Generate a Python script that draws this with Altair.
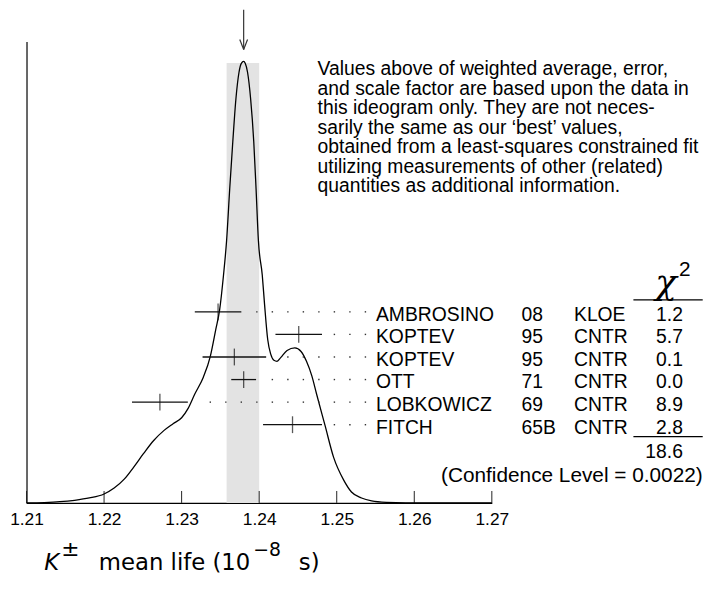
import altair as alt
import pandas as pd
import numpy as np

# ---- measurements (PDG K+- mean life, 1e-8 s) ----
authors = ["AMBROSINO", "KOPTEV", "KOPTEV", "OTT", "LOBKOWICZ", "FITCH"]
years = ["08", "95", "95", "71", "69", "65B"]
techs = ["KLOE", "CNTR", "CNTR", "CNTR", "CNTR", "CNTR"]
values = [1.2347, 1.2451, 1.2368, 1.2380, 1.2272, 1.2443]
errors = [0.0030, 0.0030, 0.0041, 0.0016, 0.0036, 0.0038]
chi2 = ["1.2", "5.7", "0.1", "0.0", "8.9", "2.8"]
chi2_total = "18.6"
conf_level = "(Confidence Level = 0.0022)"

avg_lo, avg_hi, avg = 1.2358, 1.2400, 1.2380

# ideogram curve (relative height, peak = 1)
curve_x = [1.2100, 1.2123, 1.2143, 1.2162, 1.2181, 1.2200, 1.2213, 1.2226, 1.2238,
           1.2251, 1.2264, 1.2277, 1.2289, 1.2300, 1.2308, 1.2317, 1.2328, 1.2337,
           1.2344, 1.2349, 1.2354, 1.2358, 1.2362, 1.2366, 1.2370, 1.2374, 1.2377,
           1.2380, 1.2382, 1.2385, 1.2389, 1.2393, 1.2396, 1.2399, 1.2404, 1.2407,
           1.2411, 1.2415, 1.2419, 1.2423, 1.2428, 1.2436, 1.2446, 1.2454, 1.2461,
           1.2468, 1.2474, 1.2485, 1.2496, 1.2509, 1.2519, 1.2532, 1.2545, 1.2564,
           1.2589, 1.2700]
curve_y = [0.0, 0.0009, 0.0027, 0.006, 0.0112, 0.0202, 0.0336, 0.0538, 0.0807,
           0.1121, 0.1413, 0.1637, 0.1794, 0.1928, 0.2130, 0.2466, 0.2848, 0.3318,
           0.3924, 0.4372, 0.5157, 0.5942, 0.7108, 0.8184, 0.9148, 0.9753, 0.9955,
           1.0, 0.9955, 0.9753, 0.9148, 0.8184, 0.7108, 0.5942, 0.5157, 0.4484,
           0.3700, 0.3363, 0.3229, 0.3206, 0.3296, 0.3453, 0.3509, 0.3430, 0.3206,
           0.2870, 0.2466, 0.1749, 0.1031, 0.0516, 0.0247, 0.0112, 0.0045, 0.0011,
           0.0, 0.0]

tick_values = [1.21, 1.22, 1.23, 1.24, 1.25, 1.26, 1.27]

note = ["Values above of weighted average, error,",
        "and scale factor are based upon the data in",
        "this ideogram only.  They are not neces-",
        "sarily the same as our \u2018best\u2019 values,",
        "obtained from a least-squares constrained fit",
        "utilizing measurements of other (related)",
        "quantities as additional information."]

# ---- layout ----
W, H = 470, 466
FONT = "Liberation Sans"
FS = 19.5
xs = alt.Scale(domain=[1.21, 1.27], nice=False, zero=False)
ys = alt.Scale(domain=[0, 1.0448], nice=False, zero=False)
rs = alt.Scale(domain=[-11.974, 8.465], nice=False, zero=False, reverse=True)
xaxis = alt.Axis(values=tick_values, format=".2f", ticks=False, grid=False, title=None,
                 domainColor="black", domainWidth=1.2, labelFont=FONT, labelFontSize=17.5,
                 labelColor="black", labelPadding=8, labelFlush=False)

def X(f):
    return alt.X(f, type="quantitative", scale=xs, axis=xaxis)

meas = pd.DataFrame({"row": list(range(len(values))), "author": authors, "year": years,
                     "tech": techs, "v": values, "e": errors, "chi": chi2})
meas["lo"] = meas.v - meas.e
meas["hi"] = meas.v + meas.e

# dotted leaders on a fixed grid
grid = np.arange(1.2337, 1.25375, 0.002)
dots = []
for i, h in enumerate(meas.hi):
    for g in grid:
        if g - h > 0.0012:
            dots.append({"row": i, "x": float(g)})
dots = pd.DataFrame(dots)

curve = pd.DataFrame({"x": curve_x, "y": curve_y})

band = alt.Chart(pd.DataFrame({"a": [avg_lo], "b": [avg_hi], "y0": [0], "y1": [0.9962]})).mark_rect(
    color="#e3e3e3").encode(x=X("a"), x2="b", y=alt.Y("y0:Q", scale=ys, axis=None), y2="y1")

ticks = alt.Chart(pd.DataFrame({"t": tick_values})).mark_rule(color="#222", strokeWidth=1).encode(
    x=X("t"), y=alt.Y("y0:Q", scale=ys, axis=None), y2="y1"
).transform_calculate(y0="0", y1="0.027")

line = alt.Chart(curve).mark_line(color="black", strokeWidth=1.3, interpolate="monotone").encode(
    x=X("x"),
    y=alt.Y("y:Q", scale=ys, axis=alt.Axis(domain=True, ticks=False, labels=False, grid=False,
                                            title=None, domainColor="black", domainWidth=1.2)))

arrow_df = pd.DataFrame({"x": [avg], "ya": [1.1166], "yb": [1.0269]})
arrow = alt.Chart(arrow_df).mark_rule(color="#333", strokeWidth=1.2).encode(
    x=X("x"), y=alt.Y("ya:Q", scale=ys, axis=None), y2="yb")
head_df = pd.DataFrame({"x": [avg - 0.0005, avg + 0.0005], "x2": [avg, avg],
                        "ya": [1.0493, 1.0493], "yb": [1.0269, 1.0269]})
head = alt.Chart(head_df).mark_rule(color="#333", strokeWidth=1.2).encode(
    x=X("x"), x2="x2", y=alt.Y("ya:Q", scale=ys, axis=None), y2="yb")

bars = alt.Chart(meas).mark_rule(color="#111", strokeWidth=1.3).encode(
    x=X("lo"), x2="hi", y=alt.Y("row:Q", scale=rs, axis=None))
centers = alt.Chart(meas).mark_tick(color="#111", thickness=1.3, size=17).encode(
    x=X("v"), y=alt.Y("row:Q", scale=rs, axis=None))
leaders = alt.Chart(dots).mark_square(color="#333", size=2, opacity=1).encode(
    x=X("x"), y=alt.Y("row:Q", scale=rs, axis=None))

def col(field, px, align):
    return alt.Chart(meas).mark_text(font=FONT, fontSize=FS, align=align, baseline="middle",
                                     dy=3, color="black").encode(
        x=alt.value(px), y=alt.Y("row:Q", scale=rs, axis=None), text=alt.Text(field, type="nominal"))

c_auth = col("author", 353, "left")
c_year = col("year", 500, "left")
c_tech = col("tech", 553, "left")
c_chi = col("chi", 663, "right")


def txt(s, px, py, size=FS, align="left", font=FONT, style="normal", baseline="alphabetic"):
    return alt.Chart(pd.DataFrame({"s": [s]})).mark_text(
        font=font, fontSize=size, align=align, baseline=baseline, fontStyle=style,
        color="black").encode(x=alt.value(px), y=alt.value(py), text=alt.Text("s", type="nominal"))

note_t = alt.Chart(pd.DataFrame({"k": [0]})).mark_text(
    text=note, font=FONT, fontSize=19.5, align="left", baseline="top", lineHeight=19.7,
    color="black").encode(x=alt.value(294), y=alt.value(19))

chi_head = txt("\u03c7", 646, 255, size=36, align="center", font="DejaVu Serif", style="italic")
chi_sup = txt("2", 659, 237, size=21)
tot = txt(chi2_total, 663, 421, align="right")
cl = txt(conf_level, 683, 445, size=21, align="right")

hl = pd.DataFrame({"a": [613, 613], "b": [683, 683], "y": [261, 399]})
hlines = alt.Chart(hl).mark_rule(color="black", strokeWidth=1.2).encode(
    x=alt.X("a:Q", scale=None), x2="b", y=alt.Y("y:Q", scale=None))

TF = "DejaVu Sans"
t1 = txt("K", 18, 534, size=23, font=TF, style="italic")
t2 = txt("\u00b1", 35, 520, size=22, font=TF)
t3 = txt("mean life (10", 73, 534, size=23, font=TF)
t4 = txt("\u22128", 229, 520, size=19, font=TF)
t5 = txt("s)", 275, 534, size=23, font=TF)

chart = alt.layer(
    band, ticks, line, arrow, head, bars, centers, leaders,
    c_auth, c_year, c_tech, c_chi, note_t, chi_head, chi_sup, tot, cl, hlines,
    t1, t2, t3, t4, t5
).resolve_scale(y="independent").properties(
    width=W, height=H,
    padding={"left": 18.7, "top": 31, "right": 214.3, "bottom": 79},
    autosize=alt.AutoSizeParams(type="none"),
).configure_view(stroke=None)

chart.save("out.html", embed_options={"renderer": "svg", "actions": False})
